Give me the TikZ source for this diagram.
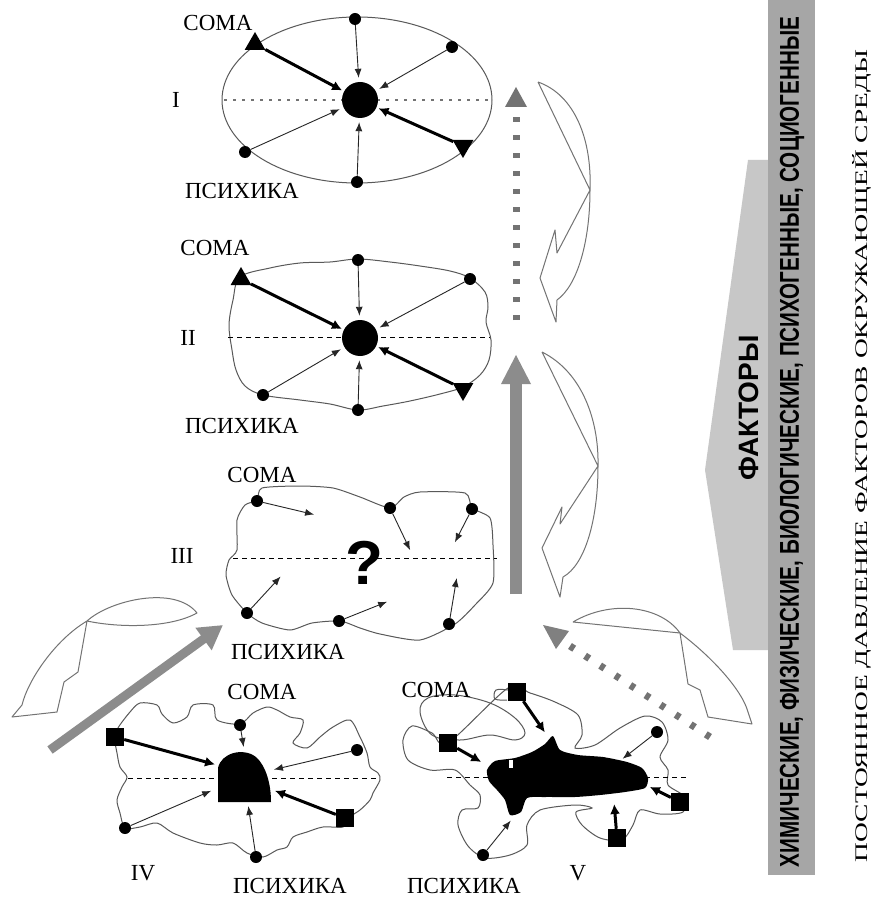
\documentclass[tikz,border=0pt]{standalone}
\usepackage{fontspec}
\setmainfont{Liberation Serif}
\newfontfamily\sansb{Liberation Sans}
\usetikzlibrary{arrows.meta,shapes.geometric}
\begin{document}
\begin{tikzpicture}[x=1pt,y=-1pt,
  dotn/.style={circle,fill=black,inner sep=0pt,minimum size=12pt},
  sqn/.style={rectangle,fill=black,inner sep=0pt,minimum size=18pt},
  triu/.style={regular polygon,regular polygon sides=3,fill=black,inner sep=0pt,minimum size=24pt},
  trid/.style={triu,shape border rotate=180},
  hub/.style={circle,fill=black,inner sep=0pt,minimum size=36pt},
  tarrow/.style={draw=black!85,line width=0.9pt,shorten >=2pt,-{Latex[length=9pt,width=7pt]}},
  karrow/.style={draw=black,line width=3pt,shorten >=2pt,-{Latex[length=10pt,width=10pt]}},
  outl/.style={draw=black!65,line width=1pt},
  dsh/.style={draw=black,line width=0.8pt,dash pattern=on 5pt off 4pt},
  lbl/.style={font=\fontsize{23}{23}\selectfont,inner sep=0pt},
  swirl/.style={draw=black!55,line width=1pt,line join=round},
]
\useasboundingbox (0,0) rectangle (883,909);
\fill[white] (0,0) rectangle (883,909);

% ================= right side =================
\fill[black!22] (748,160) -- (705,470) -- (733,650) -- (768,650) -- (768,160) -- cycle;
\fill[black!35] (768,0) rectangle (815,875);
\node[rotate=90,inner sep=0pt] (fakt) at (749,408) {\fontsize{28}{28}\sansb\bfseries ФАКТОРЫ};
\node[rotate=90,inner sep=0pt] (band) at (792,442) {\resizebox{850pt}{19pt}{\sansb\bfseries ХИМИЧЕСКИЕ, ФИЗИЧЕСКИЕ, БИОЛОГИЧЕСКИЕ, ПСИХОГЕННЫЕ, СОЦИОГЕННЫЕ}};
\node[rotate=90,inner sep=0pt] (press) at (862,456) {\resizebox{812pt}{15pt}{ПОСТОЯННОЕ ДАВЛЕНИЕ ФАКТОРОВ ОКРУЖАЮЩЕЙ СРЕДЫ}};

% ================= vertical arrows =================
\coordinate (dA1) at (516,320); \coordinate (dA2) at (516,110);
\draw[black!55,line width=7pt,dash pattern=on 5pt off 13pt] (dA1) -- (dA2);
\fill[black!55] (505,107) -- (527,107) -- (516,87) -- cycle;
\coordinate (sA1) at (516,594); \coordinate (sA2) at (516,382);
\draw[black!45,line width=12pt] (sA1) -- (sA2);
\fill[black!45] (501,384) -- (531,384) -- (516,355) -- cycle;
\coordinate (gA1) at (710,737); \coordinate (gA2) at (570,646);
\draw[black!55,line width=7pt,dash pattern=on 5pt off 13pt] (gA1) -- (gA2);
\fill[black!50] (543,625) -- (569,631) -- (556,649) -- cycle;
\coordinate (lA1) at (50,750); \coordinate (lA2) at (223,625);
\draw[black!45,line width=9pt,-{Triangle[length=24pt,width=26pt]}] (lA1) -- (lA2);

% ================= swirls =================
\draw[swirl] (538,82) .. controls (575,95) and (592,140) .. (590,190) .. controls (590,240) and (578,285) .. (557,300) -- (556,322) -- (540,278) -- (555,230) -- (557,253) -- (590,190) -- (538,82);
\draw[swirl] (542,352) .. controls (582,372) and (599,420) .. (598,466) .. controls (598,520) and (585,565) .. (563,577) -- (560,597) -- (542,548) -- (562,507) -- (560,524) -- (598,466) -- (542,352);
\draw[swirl] (573,622) .. controls (610,600) and (660,605) .. (680,633) .. controls (712,657) and (742,690) .. (748,712) -- (752,724) -- (708,717) -- (700,690) -- (688,684) -- (680,633) -- (573,622);
\draw[swirl] (87,621) .. controls (110,600) and (175,585) .. (197,613) .. controls (170,628) and (120,628) .. (87,621) .. controls (55,640) and (28,680) .. (22,705) -- (12,717) -- (57,712) -- (64,682) -- (78,672) -- (87,621);

% ================= I =================
\draw[outl] (357,100) ellipse [x radius=135pt, y radius=83pt];
\draw[black!55,line width=2.5pt,dash pattern=on 3pt off 6pt] (224,100) -- (490,100);
\node[hub] (h1) at (360,100) {};
\node[dotn] (i1) at (355,19) {};
\node[dotn] (i2) at (452,47) {};
\node[dotn] (i3) at (245,152) {};
\node[dotn] (i4) at (357,182) {};
\node[triu] (it1) at (255,44) {};
\node[trid] (it2) at (463,146) {};
\draw[tarrow,shorten >=4pt] (i1) -- (h1);
\draw[tarrow,shorten >=4pt] (i2) -- (h1);
\draw[tarrow,shorten >=4pt] (i3) -- (h1);
\draw[tarrow,shorten >=4pt] (i4) -- (h1);
\draw[karrow] (it1) -- (h1);
\draw[karrow] (it2) -- (h1);
\node[lbl] at (218,23) {СОМА};
\node[lbl] at (176,100) {I};
\node[lbl] at (242,191) {ПСИХИКА};

% ================= II =================
\draw[outl] plot[smooth cycle,tension=0.55] coordinates {(240,277) (270,268) (300,263) (330,262) (358,259) (390,262) (420,266) (450,271) (470,278) (485,292) (488,307) (486,322) (491,340) (489,360) (480,375) (463,387) (440,394) (410,401) (383,406) (358,410) (330,404) (300,400) (263,395) (245,386) (236,370) (232,350) (229,325) (233,300)};
\draw[dsh] (228,337) -- (490,337);
\node[hub] (h2) at (360,338) {};
\node[dotn] (j1) at (358,260) {};
\node[dotn] (j2) at (470,279) {};
\node[dotn] (j3) at (263,395) {};
\node[dotn] (j4) at (358,410) {};
\node[triu] (jt1) at (241,279) {};
\node[trid] (jt2) at (463,389) {};
\draw[tarrow,shorten >=4pt] (j1) -- (h2);
\draw[tarrow,shorten >=4pt] (j2) -- (h2);
\draw[tarrow,shorten >=4pt] (j3) -- (h2);
\draw[tarrow,shorten >=4pt] (j4) -- (h2);
\draw[karrow] (jt1) -- (h2);
\draw[karrow] (jt2) -- (h2);
\node[lbl] at (215,248) {СОМА};
\node[lbl] at (188,338) {II};
\node[lbl] at (242,426) {ПСИХИКА};

% ================= III =================
\draw[outl] plot[smooth cycle,tension=0.4] coordinates {(257,500) (262,488) (300,486) (333,488) (360,497) (390,508) (404,497) (420,492) (465,493) (472,508) (490,518) (493,545) (493,583) (475,605) (455,624) (420,640) (380,634) (360,628) (340,621) (312,623) (290,630) (262,623) (247,613) (232,595) (226,575) (229,560) (237,550) (237,520) (245,505)};
\draw[dsh] (233,558) -- (497,558);
\node[dotn] (k1) at (257,501) {};
\node[dotn] (k2) at (390,508) {};
\node[dotn] (k3) at (472,509) {};
\node[dotn] (k4) at (247,613) {};
\node[dotn] (k5) at (339,621) {};
\node[dotn] (k6) at (449,624) {};
\coordinate (ke1) at (316,515);
\coordinate (ke2) at (411,552);
\coordinate (ke3) at (454,544);
\coordinate (ke4) at (282,575);
\coordinate (ke5) at (389,601);
\coordinate (ke6) at (457,576);
\draw[tarrow] (k1) -- (ke1);
\draw[tarrow] (k2) -- (ke2);
\draw[tarrow] (k3) -- (ke3);
\draw[tarrow] (k4) -- (ke4);
\draw[tarrow] (k5) -- (ke5);
\draw[tarrow] (k6) -- (ke6);
\node[inner sep=0pt] (q) at (364,563) {\fontsize{62}{62}\sansb\bfseries ?};
\node[lbl] at (262,475) {СОМА};
\node[lbl] at (182,556) {III};
\node[lbl] at (288,652) {ПСИХИКА};

% ================= IV =================
\draw[outl] plot[smooth cycle,tension=0.5] coordinates {(118,728) (130,712) (140,703) (157,705) (162,714) (173,723) (187,717) (193,705) (213,705) (217,720) (240,724) (253,713) (267,707) (277,710) (290,717) (303,720) (300,733) (293,743) (307,748) (320,737) (333,727) (350,720) (360,737) (367,753) (370,767) (378,773) (380,780) (373,793) (370,800) (360,810) (345,820) (343,827) (323,827) (307,832) (293,837) (287,847) (277,850) (263,857) (247,853) (233,843) (217,845) (200,843) (173,833) (157,823) (140,827) (125,828) (120,813) (117,800) (122,787) (127,777) (120,767) (117,753) (115,740)};
\draw[dsh] (128,778) -- (378,778);
\fill[black] (218,802) -- (218,768) .. controls (221,753) and (243,747) .. (256,757) .. controls (266,766) and (271,784) .. (271,802) -- cycle;
\node[sqn] (m1) at (115,737) {};
\node[sqn] (m2) at (345,818) {};
\node[dotn] (m3) at (240,725) {};
\node[dotn] (m4) at (357,750) {};
\node[dotn] (m5) at (125,828) {};
\node[dotn] (m6) at (256,857) {};
\coordinate (me1) at (217,765);
\coordinate (me2) at (273,790);
\coordinate (me3) at (244,749);
\coordinate (me4) at (272,770);
\coordinate (me5) at (213,790);
\coordinate (me6) at (248,804);
\draw[karrow] (m1) -- (me1);
\draw[karrow] (m2) -- (me2);
\draw[tarrow] (m3) -- (me3);
\draw[tarrow] (m4) -- (me4);
\draw[tarrow] (m5) -- (me5);
\draw[tarrow] (m6) -- (me6);
\node[lbl] at (262,692) {СОМА};
\node[lbl] at (143,873) {IV};
\node[lbl] at (290,886) {ПСИХИКА};

% ================= V =================
\draw[outl] plot[smooth cycle,tension=0.5] coordinates {(508,688) (530,693) (555,702) (578,715) (582,735) (575,748) (595,745) (620,728) (645,716) (662,722) (668,740) (660,757) (668,770) (668,785) (685,797) (683,812) (660,814) (640,810) (633,825) (622,840) (600,838) (582,825) (576,812) (592,808) (575,805) (540,810) (527,825) (527,845) (510,855) (485,858) (468,846) (458,825) (462,810) (478,808) (480,795) (470,785) (455,770) (430,770) (408,760) (403,740) (412,726) (432,733) (448,743)};
\draw[outl] plot[smooth cycle,tension=0.6] coordinates {(432,735) (420,712) (428,698) (455,695) (490,703) (515,718) (525,733) (515,740) (490,735) (460,740)};
\draw[outl] plot[smooth,tension=0.6] coordinates {(508,690) (496,690) (495,699) (507,700)};
\draw[dsh] (447,777) -- (687,777);
\fill[black] plot[smooth cycle,tension=0.4] coordinates {(487,770) (495,761) (515,758) (532,752) (545,744) (553,736) (560,750) (578,755) (603,757) (627,762) (642,768) (648,778) (645,788) (625,792) (600,795) (575,797) (545,797) (527,798) (521,812) (510,815) (505,800) (497,790) (489,781)};
\fill[white] (509,760) rectangle (513,768);
\node[sqn] (n1) at (517,692) {};
\node[sqn] (n2) at (448,743) {};
\node[sqn] (n3) at (680,802) {};
\node[sqn] (n4) at (617,838) {};
\node[dotn] (n5) at (657,732) {};
\node[dotn] (n6) at (483,855) {};
\coordinate (ne1) at (546,734);
\coordinate (ne2) at (483,763);
\coordinate (ne3) at (648,786);
\coordinate (ne4) at (614,802);
\coordinate (ne5) at (621,760);
\coordinate (ne6) at (512,819);
\draw[karrow] (n1) -- (ne1);
\draw[karrow] (n2) -- (ne2);
\draw[karrow] (n3) -- (ne3);
\draw[karrow] (n4) -- (ne4);
\draw[tarrow] (n5) -- (ne5);
\draw[tarrow] (n6) -- (ne6);
\node[lbl] at (436,690) {СОМА};
\node[lbl] at (578,873) {V};
\node[lbl] at (464,886) {ПСИХИКА};
\end{tikzpicture}
\end{document}
